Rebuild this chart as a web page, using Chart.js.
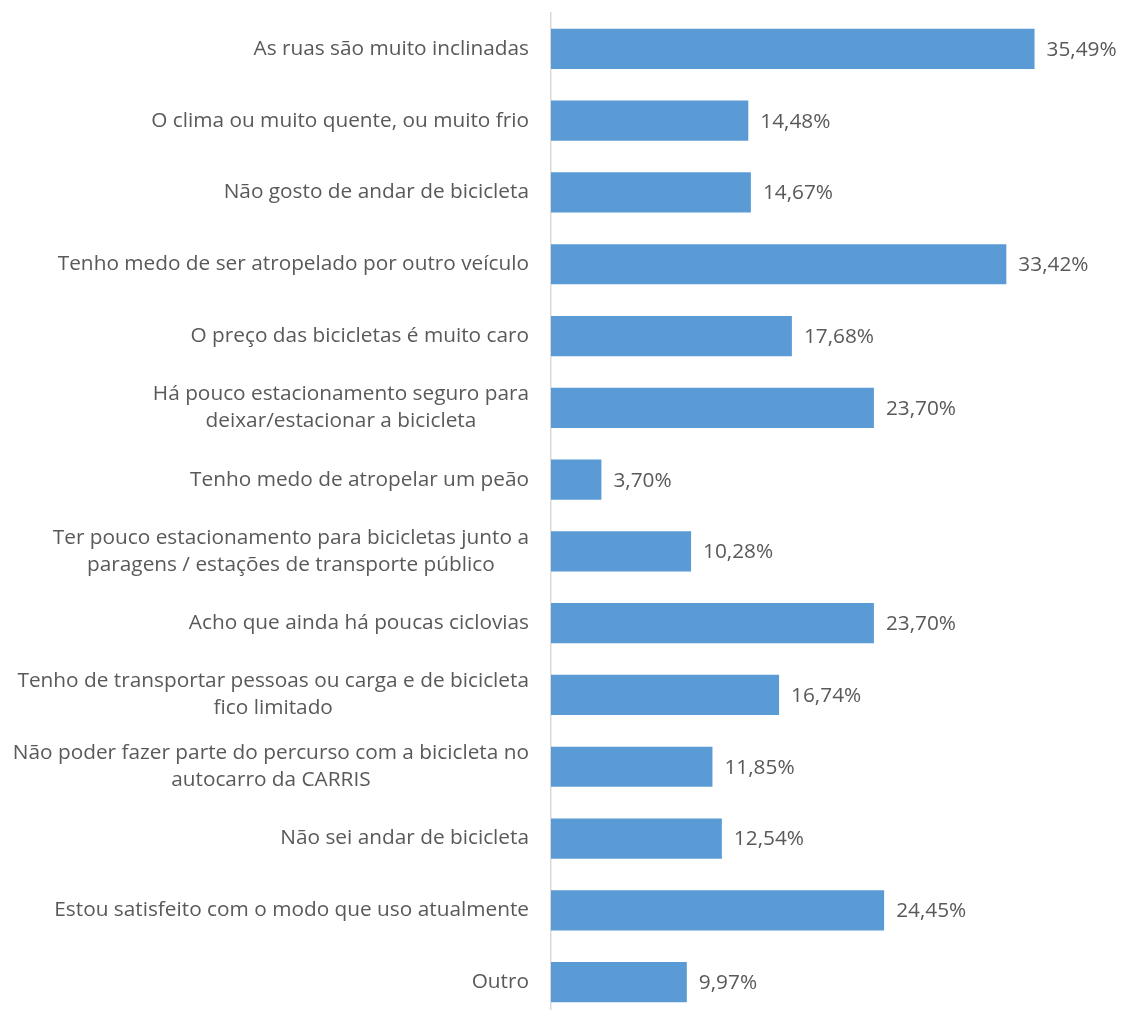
<!DOCTYPE html>
<html>
<head>
<meta charset="utf-8">
<script src="https://cdn.jsdelivr.net/npm/chart.js@4"></script>
<style>
  html, body { margin: 0; padding: 0; background: #fff; overflow: hidden; }
  #chart { display: block; }
</style>
</head>
<body>
<canvas id="chart" width="1122" height="1018"></canvas>
<script>
//Category labels (arrays are wrapped lines)
const reasons = [
  "As ruas são muito inclinadas",
  "O clima ou muito quente, ou muito frio",
  "Não gosto de andar de bicicleta",
  "Tenho medo de ser atropelado por outro veículo",
  "O preço das bicicletas é muito caro",
  ["Há pouco estacionamento seguro para", "deixar/estacionar a bicicleta"],
  "Tenho medo de atropelar um peão",
  ["Ter pouco estacionamento para bicicletas junto a", "paragens / estações de transporte público"],
  "Acho que ainda há poucas ciclovias",
  ["Tenho de transportar pessoas ou carga e de bicicleta", "fico limitado"],
  ["Não poder fazer parte do percurso com a bicicleta no", "autocarro da CARRIS"],
  "Não sei andar de bicicleta",
  "Estou satisfeito com o modo que uso atualmente",
  "Outro",
];
//Percentage of answers for each reason
const percentages = [35.49, 14.48, 14.67, 33.42, 17.68, 23.70, 3.70, 10.28, 23.70, 16.74, 11.85, 12.54, 24.45, 9.97];

const FONT = '20.8px "Open Sans"';
const TEXT_COLOR = "#595959";
const LINE_H = 27;

//Draws category names left of the axis and values right of the bars
const labelPlugin = {
  id: "labels",
  afterDatasetsDraw(chart) {
    const ctx = chart.ctx;
    const yScale = chart.scales.y;
    const meta = chart.getDatasetMeta(0);
    ctx.save();
    ctx.font = FONT;
    ctx.fillStyle = TEXT_COLOR;
    ctx.textBaseline = "middle";
    const rightEdge = yScale.right - 22;
    reasons.forEach((label, i) => {
      const y = yScale.getPixelForValue(i);
      const lines = Array.isArray(label) ? label : [label];
      const widest = Math.max(...lines.map(l => ctx.measureText(l).width));
      const cx = rightEdge - widest / 2;
      ctx.textAlign = "center";
      lines.forEach((line, j) => {
        const ly = y + (j - (lines.length - 1) / 2) * LINE_H;
        ctx.fillText(line, cx, ly);
      });
    });
    ctx.textAlign = "left";
    meta.data.forEach((bar, i) => {
      const txt = percentages[i].toFixed(2).replace(".", ",") + "%";
      ctx.fillText(txt, bar.x + 12, bar.y + 1);
    });
    ctx.restore();
  },
};

new Chart(document.getElementById("chart"), {
  type: "bar",
  plugins: [labelPlugin],
  data: {
    labels: reasons,
    datasets: [
      {
        data: percentages,
        backgroundColor: "#5B9BD5",
        borderWidth: 0,
        barPercentage: 0.56,
        categoryPercentage: 1,
      },
    ],
  },
  options: {
    indexAxis: "y",
    responsive: false,
    animation: false,
    layout: { padding: { top: 13, right: 26, bottom: 0, left: 0 } },
    plugins: {
      legend: { display: false },
      tooltip: { enabled: false },
    },
    scales: {
      x: {
        display: false,
        min: 0,
        max: 40,
      },
      y: {
        ticks: { display: false },
        grid: { display: false },
        border: { display: true, color: "#D9D9D9", width: 1.5 },
        afterFit(scale) {
          scale.width = 551;
        },
      },
    },
  },
});
</script>
</body>
</html>
